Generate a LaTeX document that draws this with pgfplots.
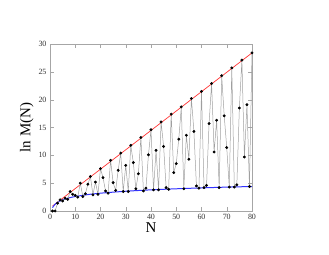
\documentclass[border=0pt]{standalone}
\usepackage{fontspec}
\setmainfont{Liberation Serif}
\usepackage{pgfplots}
\pgfplotsset{compat=1.18}
\begin{document}
\begin{tikzpicture}
\useasboundingbox (-50bp,-44bp) rectangle (279bp,211bp);
\begin{axis}[
  anchor=south west, at={(0,0)},
  width=202bp, height=167bp, scale only axis,
  xmin=0, xmax=80, ymin=0, ymax=30,
  xtick={0,10,...,80}, ytick={0,5,...,30},
  tick align=inside, tick pos=both,
  axis line style={gray!70},
  major tick style={gray!70},
  tick label style={font=\fontsize{8}{9}\selectfont, text=black!80},
  /pgf/number format/assume math mode=true,
  xlabel={N}, ylabel={ln M(N)},
  label style={font=\fontsize{15}{16}\selectfont},
  xlabel style={yshift=4pt},
  ylabel style={yshift=-2pt},
]
\addplot[red!80, line width=0.7pt] coordinates {(1,0.9)(80,28.4)};
\addplot[blue!80, line width=1pt, smooth] coordinates {
(1,0.61)(2,1.21)(3,1.56)(4,1.81)(6,2.16)(8,2.41)(10,2.60)(15,2.95)(20,3.20)
(30,3.55)(40,3.80)(50,3.99)(60,4.15)(70,4.29)(80,4.40)};
\addplot[gray!75, line width=0.5pt, mark=*, mark size=1.2pt, mark options={black, fill=black}] coordinates {
(1,0)(2,0)(3,1.4)(4,2.0)(5,1.8)(6,2.3)(7,2.1)(8,3.5)(9,3.0)(10,2.8)
(11,2.5)(12,5.0)(13,2.6)(14,3.1)(15,4.8)(16,6.2)(17,2.9)(18,5.2)(19,3.0)(20,7.6)
(21,6.0)(22,3.6)(23,3.2)(24,9.1)(25,5.1)(26,3.7)(27,7.3)(28,10.4)(29,3.5)(30,8.2)
(31,3.5)(32,11.8)(33,8.7)(34,4.0)(35,6.7)(36,13.2)(37,3.6)(38,4.1)(39,10.1)(40,14.6)
(41,3.8)(42,10.9)(43,3.8)(44,16.0)(45,11.6)(46,4.2)(47,3.9)(48,17.4)(49,6.9)(50,8.5)
(51,12.9)(52,18.7)(53,4.0)(54,13.6)(55,9.3)(56,20.2)(57,14.3)(58,4.5)(59,4.1)(60,21.5)
(61,4.2)(62,4.6)(63,15.7)(64,22.9)(65,10.6)(66,16.3)(67,4.2)(68,24.3)(69,17.1)(70,11.4)
(71,4.3)(72,25.7)(73,4.3)(74,4.7)(75,18.5)(76,27.1)(77,9.7)(78,19.1)(79,4.4)(80,28.4)
};
\end{axis}
\end{tikzpicture}
\end{document}
